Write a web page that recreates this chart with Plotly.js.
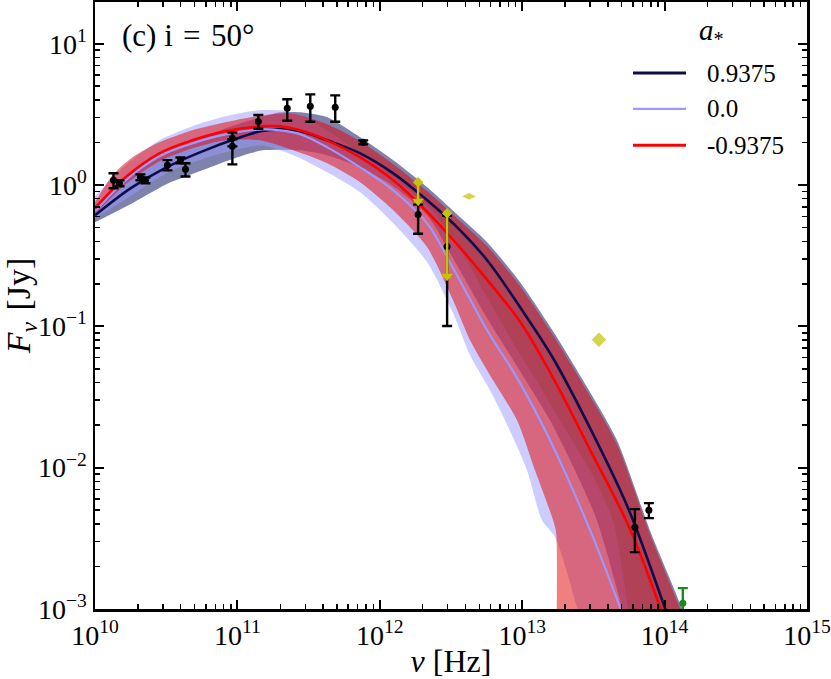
<!DOCTYPE html>
<html><head><meta charset="utf-8">
<script src="https://cdn.plot.ly/plotly-3.0.1.min.js"></script>
<style>html,body{margin:0;padding:0;background:#fff}#chart{width:831px;height:679px}</style>
</head><body><div id="chart"></div>
<script>
// ---- model curves (nu in Hz, F in Jy) ----
var spin = ['0.9375', '0.0', '-0.9375'];

var navyNu = [1e10, 1.774e10, 3.174e10, 5.675e10, 1e11, 1.449e11, 2.0e11, 2.764e11, 4.276e11, 7.28e11, 1.244e12, 2.153e12, 3.668e12, 5.675e12, 9.67e12, 1.648e13, 2.997e13, 5.62e13, 1.006e14, 1.39e14];
var navyF  = [0.6106, 0.9477, 1.334, 1.731, 2.139, 2.398, 2.477, 2.398, 2.071, 1.676, 1.210, 0.7794, 0.4782, 0.2935, 0.1365, 0.05949, 0.01903, 0.005005, 0.001015, 0.000401];

var lbNu = [1e10, 1.638e10, 2.834e10, 4.83e10, 8.23e10, 1.499e11, 2.0e11, 2.764e11, 4.276e11, 7.28e11, 1.244e12, 2.153e12, 3.272e12, 5.675e12, 9.2e12, 1.569e13, 2.997e13, 4.857e13, 6.186e13];
var lbF  = [0.6516, 1.080, 1.596, 1.972, 2.284, 2.477, 2.437, 2.284, 1.847, 1.334, 0.9173, 0.5359, 0.2576, 0.0939, 0.04322, 0.01565, 0.003614, 0.001031, 0.000516];

var redNu = [1e10, 1.638e10, 2.834e10, 4.83e10, 8.23e10, 1.499e11, 2.0e11, 2.764e11, 4.276e11, 7.28e11, 1.244e12, 2.153e12, 3.668e12, 5.675e12, 9.67e12, 1.648e13, 2.997e13, 5.62e13, 9.265e13, 1.18e14];
var redF  = [0.6842, 1.1335, 1.676, 2.071, 2.398, 2.601, 2.601, 2.437, 2.071, 1.570, 1.080, 0.6453, 0.3590, 0.2133, 0.1076, 0.04322, 0.01338, 0.003819, 0.001038, 0.000516];

// ---- uncertainty bands ----
var navyUpNu = [1e10, 1.774e10, 3.174e10, 5.675e10, 1e11, 1.449e11, 2.0e11, 2.764e11, 4.276e11, 7.28e11, 1.244e12, 2.153e12, 3.668e12, 5.675e12, 9.67e12, 1.648e13, 2.672e13, 4.627e13, 7.885e13, 1.280e14, 1.768e14];
var navyUpF  = [0.7185, 1.152, 1.676, 2.175, 2.688, 3.012, 3.267, 3.267, 3.012, 2.175, 1.495, 0.963, 0.5909, 0.3934, 0.2050, 0.09234, 0.04157, 0.01565, 0.003614, 0.001101, 0.000435];
var navyLoNu = [1e10, 1.774e10, 3.174e10, 5.675e10, 1e11, 1.499e11, 2.764e11, 4.276e11, 7.28e11, 1.244e12, 2.153e12, 3.272e12, 5.675e12, 9.2e12, 1.567e13, 2.347e13, 3.348e13, 5.015e13, 6.186e13];
var navyLoF  = [0.5447, 0.7303, 1.012, 1.270, 1.570, 1.759, 1.759, 1.622, 1.334, 0.979, 0.6106, 0.3030, 0.1141, 0.05222, 0.02167, 0.00960, 0.004253, 0.001031, 0.000435];

var lbUpNu = [1e10, 1.637e10, 2.834e10, 4.83e10, 8.23e10, 1.380e11, 2.0e11, 2.764e11, 4.276e11, 7.28e11, 1.244e12, 2.153e12, 3.272e12, 5.675e12, 9.2e12, 1.270e13, 1.843e13, 2.991e13, 4.336e13, 5.525e13, 6.186e13];
var lbUpF  = [0.832, 1.378, 2.071, 2.601, 3.061, 3.376, 3.376, 3.111, 2.437, 1.676, 1.134, 0.7185, 0.4267, 0.1606, 0.06887, 0.04090, 0.02167, 0.00960, 0.004253, 0.001031, 0.000435];
var lbLoNu = [1e10, 1.774e10, 3.174e10, 5.675e10, 1e11, 1.499e11, 2.0e11, 2.764e11, 4.276e11, 7.28e11, 1.244e12, 2.153e12, 3.272e12, 4.305e12, 5.94e12, 7.58e12, 1.081e13, 1.377e13, 1.703e13, 2.424e13, 2.991e13];
var lbLoF  = [0.5814, 0.832, 1.210, 1.520, 1.788, 1.909, 1.759, 1.545, 1.230, 0.888, 0.5359, 0.2840, 0.1238, 0.06247, 0.03532, 0.02167, 0.00960, 0.004253, 0.003225, 0.001031, 0.000435];

var redUpNu = [1e10, 1.327e10, 1.833e10, 2.834e10, 4.83e10, 8.23e10, 1.499e11, 2.351e11, 4.276e11, 7.28e11, 1.244e12, 2.153e12, 3.668e12, 5.675e12, 9.67e12, 1.648e13, 2.672e13, 4.627e13, 7.885e13, 1.239e14, 1.768e14];
var redUpF  = [0.7544, 1.171, 1.570, 2.004, 2.437, 2.776, 3.111, 3.215, 2.688, 2.038, 1.401, 0.902, 0.5537, 0.3686, 0.1921, 0.08652, 0.03896, 0.01466, 0.003386, 0.001101, 0.000401];
var redLoNu = [1e10, 1.637e10, 2.834e10, 4.83e10, 8.23e10, 1.449e11, 2.469e11, 4.276e11, 7.28e11, 1.244e12, 2.153e12, 3.272e12, 4.305e12, 5.94e12, 9.2e12, 1.230e13, 1.648e13, 1.730e13, 1.7305e13, 1.731e13];
var redLoF  = [0.6205, 1.012, 1.471, 1.817, 2.071, 2.071, 1.759, 1.424, 1.045, 0.6622, 0.3626, 0.1530, 0.07973, 0.04510, 0.02167, 0.00960, 0.004253, 0.003497, 3e-4, 1e-6];

// ---- observations ----
var obsNu = [1.349e10, 1.486e10, 2.085e10, 2.26e10, 3.226e10, 3.98e10, 4.32e10, 9.22e10, 9.22e10, 1.403e11, 2.239e11, 3.25e11, 4.864e11, 7.645e11, 1.858e12, 2.97e12, 6.186e13, 7.756e13];
var obsF  = [1.080, 1.028, 1.134, 1.080, 1.378, 1.495, 1.291, 2.139, 1.878, 2.82, 3.486, 3.603, 3.544, 2.004, 0.6175, 0.3667, 0.003794, 0.005005];
var obsHi = [1.210, 1.08, 1.19, 1.13, 1.50, 1.567, 1.425, 2.35, 2.11, 3.13, 4.04, 4.38, 4.31, 2.07, 0.727, 0.6066, 0.005087, 0.005609];
var obsLo = [0.948, 0.98, 1.08, 1.03, 1.27, 1.425, 1.148, 1.877, 1.40, 2.50, 2.85, 2.80, 2.80, 1.94, 0.452, 0.1006, 0.002527, 0.004393];

var limNu  = [1.858e12, 2.97e12];
var limTop = [1.045, 0.6307];
var limEnd = [0.767, 0.226];

var ylwNu = [4.235e12, 3.458e13];
var ylwF  = [0.832, 0.0804];

var grnNu = [1.343e14];
var grnF  = [0.0011];
var grnHi = [0.001406];
var grnLo = [0.0005];

// ---- ticks ----
var xTickVals = [1e10, 1e11, 1e12, 1e13, 1e14, 1e15];
var xTickText = ['10<sup>10</sup>', '10<sup>11</sup>', '10<sup>12</sup>', '10<sup>13</sup>', '10<sup>14</sup>', '10<sup>15</sup>'];
var yTickVals = [1e-3, 1e-2, 1e-1, 1, 10];
var yTickText = ['10<sup>\u22123</sup>', '10<sup>\u22122</sup>', '10<sup>\u22121</sup>', '10<sup>0</sup>', '10<sup>1</sup>'];

function minorVals(d0, d1) {
  var v = [];
  for (var d = d0; d <= d1; d++) for (var k = 2; k <= 9; k++) v.push(k * Math.pow(10, d));
  return v;
}

var FONT = '"Liberation Serif", "Times New Roman", serif';
var NAVY = '#0d0d4d', LB = '#9999ff', RED = '#ff0000', YEL = '#c4c400', GRN = '#1a8a1a';
var lineColors = [NAVY, LB, RED];
var lineWidths = [2.6, 2.2, 2.6];

function band(upNu, upF, loNu, loF, color) {
  return {
    x: upNu.concat(loNu.slice().reverse()),
    y: upF.concat(loF.slice().reverse()),
    type: 'scatter', mode: 'lines', fill: 'toself', fillcolor: color,
    line: {width: 0, color: 'rgba(0,0,0,0)', shape: 'spline', smoothing: 0.7},
    hoverinfo: 'skip', showlegend: false
  };
}
function curve(nu, f, i) {
  return {x: nu, y: f, type: 'scatter', mode: 'lines', name: spin[i], showlegend: false,
          line: {color: lineColors[i], width: lineWidths[i], shape: 'spline', smoothing: 1}};
}
function diff(a, b) { return a.map(function (v, i) { return v - b[i]; }); }

var traces = [
  band(navyUpNu, navyUpF, navyLoNu, navyLoF, 'rgba(0,5,90,0.5)'),
  band(lbUpNu, lbUpF, lbLoNu, lbLoF, 'rgba(153,153,255,0.5)'),
  band(redUpNu, redUpF, redLoNu, redLoF, 'rgba(225,0,0,0.5)'),
  curve(navyNu, navyF, 0),
  curve(lbNu, lbF, 1),
  curve(redNu, redF, 2),
  {x: obsNu, y: obsF, type: 'scatter', mode: 'markers', showlegend: false,
   marker: {color: '#000', size: 7},
   error_y: {type: 'data', symmetric: false, array: diff(obsHi, obsF), arrayminus: diff(obsF, obsLo), color: '#000', thickness: 2.4, width: 5}},
  {x: limNu, y: limTop, type: 'scatter', mode: 'markers', showlegend: false,
   marker: {color: YEL, size: 8, symbol: 'diamond'},
   error_y: {type: 'data', symmetric: false, array: [0, 0], arrayminus: diff(limTop, limEnd), color: YEL, thickness: 2.4, width: 4}},
  {x: limNu, y: limEnd, type: 'scatter', mode: 'markers', showlegend: false,
   marker: {color: YEL, size: 10, symbol: 'triangle-down'}},
  {x: ylwNu, y: ylwF, type: 'scatter', mode: 'markers', showlegend: false,
   marker: {color: YEL, size: [11, 12], symbol: ['diamond-wide', 'diamond']}},
  {x: grnNu, y: grnF, type: 'scatter', mode: 'markers', showlegend: false,
   marker: {color: GRN, size: 7},
   error_y: {type: 'data', symmetric: false, array: diff(grnHi, grnF), arrayminus: diff(grnF, grnLo), color: GRN, thickness: 2.4, width: 5}}
];

// ---- legend (drawn in paper coordinates) ----
var legX0 = 0.7556, legX1 = 0.8301, legTextX = 0.8567;
var legRowsY = [0.883, 0.824, 0.764];
var shapes = [], annotations = [];
for (var i = 0; i < spin.length; i++) {
  shapes.push({type: 'line', xref: 'paper', yref: 'paper', x0: legX0, x1: legX1, y0: legRowsY[i], y1: legRowsY[i],
               line: {color: lineColors[i], width: lineWidths[i] + 0.2}});
  annotations.push({text: spin[i], xref: 'paper', yref: 'paper', x: legTextX, y: legRowsY[i],
                    xanchor: 'left', yanchor: 'middle', showarrow: false,
                    font: {family: FONT, size: 25, color: '#000'}});
}
annotations.push({text: '<i>a</i><sub>*</sub>', xref: 'paper', yref: 'paper', x: 0.8455, y: 0.95,
                  xanchor: 'left', yanchor: 'middle', showarrow: false,
                  font: {family: FONT, size: 29, color: '#000'}});
annotations.push({text: '(c) i\u2004=\u200450\u00b0', xref: 'paper', yref: 'paper', x: 0.035, y: 0.944,
                  xanchor: 'left', yanchor: 'middle', showarrow: false,
                  font: {family: FONT, size: 31, color: '#000'}});

var axBase = {
  type: 'log', showline: true, linecolor: '#000', linewidth: 2.5, mirror: 'allticks',
  ticks: 'inside', ticklen: 9, tickwidth: 2, tickcolor: '#000',
  showgrid: false, zeroline: false, tickmode: 'array',
  tickfont: {family: FONT, size: 28, color: '#000'}
};

var layout = {
  width: 831, height: 679,
  margin: {l: 95, r: 24, t: 2, b: 70, pad: 0},
  paper_bgcolor: '#fff', plot_bgcolor: '#fff',
  font: {family: FONT, color: '#000'},
  showlegend: false,
  xaxis: Object.assign({}, axBase, {
    range: [10, 15], tickvals: xTickVals, ticktext: xTickText,
    minor: {tickmode: 'array', tickvals: minorVals(10, 14), ticks: 'inside', ticklen: 5, tickwidth: 1.5, tickcolor: '#000', showgrid: false},
    title: {text: '<i>\u03bd</i> [Hz]', font: {family: FONT, size: 32, color: '#000'}, standoff: 4}
  }),
  yaxis: Object.assign({}, axBase, {
    range: [-3, 1.295], tickvals: yTickVals, ticktext: yTickText,
    minor: {tickmode: 'array', tickvals: minorVals(-3, 1), ticks: 'inside', ticklen: 5, tickwidth: 1.5, tickcolor: '#000', showgrid: false},
    title: {text: '<i>F</i><sub><i>\u03bd</i></sub>\u2004[Jy]', font: {family: FONT, size: 34, color: '#000'}, standoff: 24}
  }),
  shapes: shapes,
  annotations: annotations
};

Plotly.newPlot('chart', traces, layout, {displayModeBar: false, staticPlot: true});
</script></body></html>
